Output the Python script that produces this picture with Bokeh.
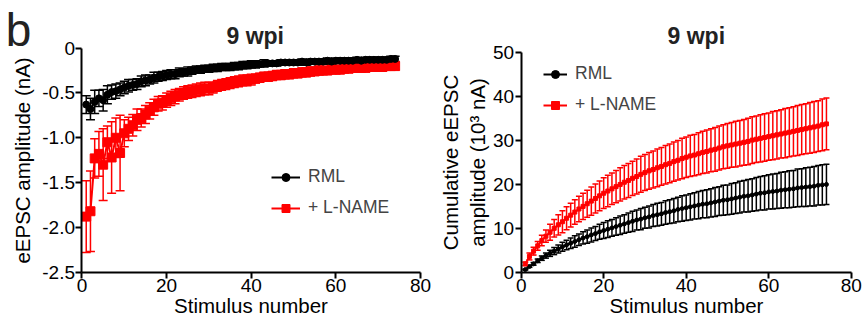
from bokeh.plotting import figure
from bokeh.models import (ColumnDataSource, Whisker, TeeHead, Label, Legend, LegendItem,
                          FixedTicker, Range1d)
from bokeh.layouts import row
from bokeh.embed import file_html
from bokeh.resources import INLINE

FONT = "Liberation Sans"

stimulus = list(range(1, 75))
x_ticks = [0, 20, 40, 60, 80]
amp_ticks = [0, -0.5, -1.0, -1.5, -2.0, -2.5]
amp_tick_labels = ["0", "-0.5", "-1.0", "-1.5", "-2.0", "-2.5"]
cum_ticks = [0, 10, 20, 30, 40, 50]

# eEPSC amplitude (nA)
rml_amp = [-0.63, -0.68, -0.60, -0.56, -0.58, -0.52, -0.49, -0.48, -0.46, -0.44,
           -0.42, -0.41, -0.40, -0.37, -0.36, -0.35, -0.33, -0.32, -0.31, -0.30,
           -0.29, -0.29, -0.27, -0.27, -0.26, -0.25, -0.24, -0.24, -0.23, -0.23,
           -0.22, -0.22, -0.21, -0.21, -0.21, -0.20, -0.20, -0.19, -0.19, -0.18,
           -0.18, -0.18, -0.17, -0.17, -0.17, -0.17, -0.16, -0.16, -0.16, -0.16,
           -0.16, -0.15, -0.16, -0.15, -0.15, -0.15, -0.15, -0.14, -0.15, -0.14,
           -0.14, -0.14, -0.14, -0.14, -0.13, -0.14, -0.13, -0.13, -0.13, -0.13,
           -0.13, -0.13, -0.12, -0.12]
rml_amp_err = [0.10, 0.12, 0.13, 0.09, 0.12, 0.10, 0.08, 0.08, 0.07, 0.07,
               0.07, 0.06, 0.06, 0.06, 0.06, 0.05, 0.06, 0.05, 0.05, 0.05,
               0.05, 0.05, 0.05, 0.04, 0.05, 0.04, 0.04, 0.04, 0.04, 0.04,
               0.04, 0.04, 0.04, 0.04, 0.04, 0.04, 0.04, 0.04, 0.04, 0.04,
               0.04, 0.03, 0.04, 0.03, 0.03, 0.03, 0.03, 0.03, 0.03, 0.03,
               0.03, 0.03, 0.03, 0.03, 0.03, 0.03, 0.03, 0.03, 0.03, 0.03,
               0.03, 0.03, 0.03, 0.03, 0.03, 0.03, 0.03, 0.03, 0.03, 0.03,
               0.03, 0.03, 0.03, 0.03]
lname_amp = [-1.88, -1.82, -1.23, -1.18, -1.30, -1.05, -1.22, -1.00, -1.17, -0.95,
             -0.90, -0.86, -0.80, -0.78, -0.74, -0.70, -0.66, -0.62, -0.61, -0.58,
             -0.56, -0.54, -0.52, -0.50, -0.49, -0.48, -0.47, -0.46, -0.45, -0.45,
             -0.44, -0.42, -0.41, -0.40, -0.39, -0.38, -0.37, -0.36, -0.36, -0.35,
             -0.34, -0.33, -0.32, -0.32, -0.31, -0.30, -0.30, -0.29, -0.29, -0.28,
             -0.28, -0.27, -0.27, -0.26, -0.26, -0.25, -0.25, -0.25, -0.24, -0.24,
             -0.24, -0.23, -0.23, -0.22, -0.22, -0.22, -0.22, -0.21, -0.21, -0.21,
             -0.21, -0.20, -0.20, -0.20]
lname_amp_err = [0.40, 0.45, 0.22, 0.25, 0.40, 0.18, 0.40, 0.22, 0.42, 0.15,
                 0.13, 0.12, 0.12, 0.10, 0.10, 0.09, 0.09, 0.08, 0.08, 0.08,
                 0.08, 0.08, 0.07, 0.07, 0.07, 0.07, 0.07, 0.07, 0.07, 0.07,
                 0.06, 0.06, 0.06, 0.06, 0.06, 0.06, 0.06, 0.06, 0.06, 0.06,
                 0.05, 0.05, 0.05, 0.05, 0.05, 0.05, 0.05, 0.05, 0.05, 0.05,
                 0.05, 0.05, 0.05, 0.05, 0.04, 0.05, 0.04, 0.04, 0.04, 0.04,
                 0.04, 0.04, 0.04, 0.04, 0.04, 0.04, 0.04, 0.04, 0.04, 0.04,
                 0.04, 0.04, 0.04, 0.04]

# Cumulative eEPSC amplitude (10^3 nA)
rml_cum = [0.6, 1.3, 1.9, 2.6, 3.2, 3.8, 4.3, 4.8, 5.3, 5.8,
           6.2, 6.6, 7.0, 7.4, 7.8, 8.1, 8.5, 8.8, 9.2, 9.5,
           9.8, 10.1, 10.4, 10.7, 11.0, 11.3, 11.6, 11.9, 12.1, 12.4,
           12.6, 12.9, 13.1, 13.3, 13.6, 13.8, 14.0, 14.3, 14.5, 14.7,
           14.9, 15.1, 15.3, 15.5, 15.6, 15.8, 16.0, 16.2, 16.4, 16.5,
           16.7, 16.9, 17.1, 17.3, 17.4, 17.6, 17.8, 18.0, 18.1, 18.3,
           18.4, 18.5, 18.7, 18.8, 18.9, 19.0, 19.2, 19.3, 19.4, 19.5,
           19.6, 19.8, 19.9, 20.0]
rml_cum_err = [0.1, 0.2, 0.3, 0.4, 0.5, 0.6, 0.7, 0.8, 0.9, 1.0,
               1.1, 1.2, 1.3, 1.3, 1.4, 1.5, 1.6, 1.6, 1.7, 1.8,
               1.9, 1.9, 2.0, 2.1, 2.1, 2.2, 2.3, 2.3, 2.4, 2.4,
               2.5, 2.5, 2.6, 2.6, 2.7, 2.7, 2.8, 2.8, 2.9, 2.9,
               3.0, 3.0, 3.1, 3.1, 3.2, 3.2, 3.3, 3.3, 3.4, 3.4,
               3.5, 3.5, 3.6, 3.6, 3.7, 3.7, 3.8, 3.8, 3.9, 3.9,
               4.0, 4.0, 4.1, 4.1, 4.2, 4.2, 4.3, 4.3, 4.4, 4.4,
               4.5, 4.5, 4.6, 4.6]
lname_cum = [1.9, 3.6, 4.8, 6.0, 7.2, 8.2, 9.1, 10.0, 10.8, 11.5,
             12.3, 13.0, 13.7, 14.4, 15.0, 15.6, 16.2, 16.8, 17.4, 18.0,
             18.5, 19.0, 19.5, 20.0, 20.5, 20.9, 21.4, 21.8, 22.3, 22.7,
             23.1, 23.4, 23.8, 24.1, 24.5, 24.8, 25.2, 25.5, 25.9, 26.2,
             26.5, 26.7, 27.0, 27.3, 27.5, 27.8, 28.0, 28.3, 28.6, 28.8,
             29.0, 29.2, 29.4, 29.6, 29.8, 30.1, 30.3, 30.5, 30.7, 30.9,
             31.1, 31.3, 31.5, 31.7, 31.9, 32.1, 32.3, 32.5, 32.7, 32.9,
             33.1, 33.3, 33.6, 33.8]
lname_cum_err = [0.4, 0.8, 0.9, 1.0, 1.2, 1.4, 1.8, 2.0, 2.3, 2.5,
                 2.6, 2.7, 2.8, 2.9, 3.0, 3.1, 3.2, 3.3, 3.4, 3.5,
                 3.6, 3.6, 3.7, 3.8, 3.8, 3.9, 3.9, 4.0, 4.1, 4.1,
                 4.2, 4.2, 4.3, 4.3, 4.4, 4.4, 4.5, 4.5, 4.6, 4.6,
                 4.7, 4.7, 4.8, 4.8, 4.9, 4.9, 5.0, 5.0, 5.0, 5.1,
                 5.1, 5.2, 5.2, 5.2, 5.3, 5.3, 5.3, 5.4, 5.4, 5.4,
                 5.5, 5.5, 5.5, 5.6, 5.6, 5.6, 5.7, 5.7, 5.7, 5.8,
                 5.8, 5.8, 5.9, 5.9]

RED = "#ff0000"
BLACK = "#000000"
H = 324


def src(x, m, e):
    return ColumnDataSource(dict(x=x, y=m,
                                 upper=[a + b for a, b in zip(m, e)],
                                 lower=[a - b for a, b in zip(m, e)]))


def make_fig(w, xr, yr, xfix, yfix, xb, yb, ylab_standoff):
    p = figure(width=w, height=H, x_range=Range1d(*xr), y_range=Range1d(*yr),
               output_backend="svg", toolbar_location=None,
               min_border_left=0, min_border_right=0, min_border_top=0, min_border_bottom=0)
    p.xgrid.visible = False
    p.ygrid.visible = False
    p.outline_line_color = None
    p.background_fill_color = None
    p.border_fill_color = None
    p.xaxis.fixed_location = xfix
    p.yaxis.fixed_location = yfix
    p.xaxis.bounds = xb
    p.yaxis.bounds = yb
    for ax in (p.xaxis[0], p.yaxis[0]):
        ax.axis_line_width = 2
        ax.axis_line_color = BLACK
        ax.major_tick_line_width = 2
        ax.major_tick_line_color = BLACK
        ax.major_tick_out = 6
        ax.major_tick_in = 0
        ax.minor_tick_line_color = None
        ax.major_label_text_font = FONT
        ax.major_label_text_font_size = "19px"
        ax.major_label_text_color = BLACK
        ax.major_label_standoff = 1
        ax.axis_label_text_font = FONT
        ax.axis_label_text_font_size = "20.5px"
        ax.axis_label_text_font_style = "normal"
        ax.axis_label_text_color = BLACK
    p.xaxis.axis_label_standoff = -2
    p.yaxis.axis_label_standoff = ylab_standoff
    return p


def add_series(p, s, color, marker, msize, head, lw):
    p.add_layout(Whisker(source=s, base="x", upper="upper", lower="lower",
                         line_color=color, line_width=lw,
                         upper_head=TeeHead(size=head, line_color=color, line_width=lw),
                         lower_head=TeeHead(size=head, line_color=color, line_width=lw)))
    l = p.line("x", "y", source=s, line_color=color, line_width=2)
    m = p.scatter("x", "y", source=s, marker=marker, size=msize,
                  fill_color=color, line_color=color)
    return [l, m]


def make_legend(items, loc, gw):
    return Legend(items=items, location=loc, glyph_width=gw, glyph_height=20,
                  label_height=20, spacing=10, padding=0, margin=0, label_standoff=8,
                  border_line_alpha=0, background_fill_alpha=0,
                  label_text_font=FONT, label_text_font_size="17.5px")


# ---------------- Left panel ----------------
p1 = make_fig(436, (-19.26, 83.78), (-3.084, 0.532), -2.5, 0, (0, 80), (-2.5, 0), 5)
p1.xaxis.ticker = FixedTicker(ticks=x_ticks)
p1.yaxis.ticker = FixedTicker(ticks=amp_ticks)
p1.yaxis.major_label_overrides = {t: l for t, l in zip(amp_ticks, amp_tick_labels)}
p1.xaxis.axis_label = "Stimulus number"
p1.yaxis.axis_label = "eEPSC amplitude (nA)"

r_l = add_series(p1, src(stimulus, lname_amp, lname_amp_err), RED, "square", 9, 9, 1.5)
r_b = add_series(p1, src(stimulus, rml_amp, rml_amp_err), BLACK, "circle", 7, 9, 1.5)

p1.add_layout(make_legend([LegendItem(label="RML", renderers=r_b),
                           LegendItem(label="+ L-NAME", renderers=r_l)], (271, 106), 29))

p1.add_layout(Label(x=40.94, y=0.138, text="9 wpi", text_align="center",
                    text_baseline="alphabetic", text_font=FONT, text_font_size="23px",
                    text_font_style="bold", text_color="#222222"))
p1.add_layout(Label(x=-18.0, y=0.205, text="b", text_align="left",
                    text_baseline="alphabetic", text_font=FONT, text_font_size="46px",
                    text_color="#222222"))

# ---------------- Right panel ----------------
p2 = make_fig(430, (-20.53, 83.71), (-11.92, 61.92), 0, 0, (0, 80), (0, 50), 1)
p2.xaxis.ticker = FixedTicker(ticks=x_ticks)
p2.yaxis.ticker = FixedTicker(ticks=cum_ticks)
p2.xaxis.axis_label = "Stimulus number"
p2.yaxis.axis_label = "Cumulative eEPSC\namplitude (10\u00b3 nA)"

c_b = add_series(p2, src(stimulus, rml_cum, rml_cum_err), BLACK, "circle", 4, 6, 1.5)
c_l = add_series(p2, src(stimulus, lname_cum, lname_cum_err), RED, "square", 4, 6, 1.5)

p2.add_layout(make_legend([LegendItem(label="RML", renderers=c_b),
                           LegendItem(label="+ L-NAME", renderers=c_l)], (107, 209), 24))

p2.add_layout(Label(x=42.45, y=53.87, text="9 wpi", text_align="center",
                    text_baseline="alphabetic", text_font=FONT, text_font_size="23px",
                    text_font_style="bold", text_color="#222222"))

layout = row(p1, p2)
open("out.html", "w").write(file_html(layout, INLINE))
